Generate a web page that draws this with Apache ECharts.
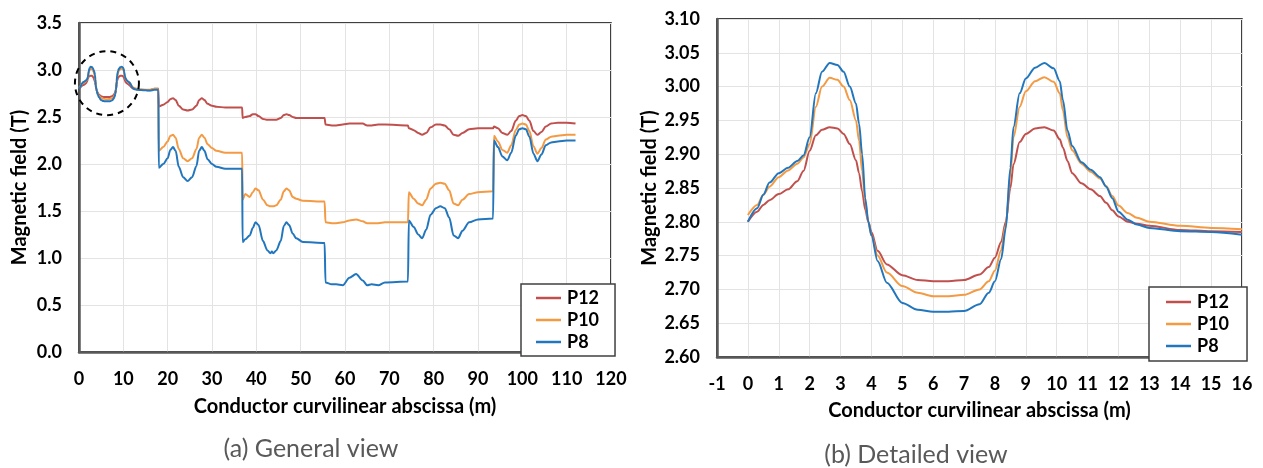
<!DOCTYPE html>
<html><head><meta charset="utf-8">
<script src="https://cdn.jsdelivr.net/npm/echarts@6/dist/echarts.min.js"></script>
<style>html,body{margin:0;padding:0;background:#fff}#c{width:1263px;height:468px}</style>
</head><body><div id="c"></div>
<script>
const seriesNames = ['P12', 'P10', 'P8'];
const seriesColors = ['#c0504d', '#f39a43', '#2176bd'];

// Detailed view (0-16 m), also the start of the general view
const detailX = [0, 0.3, 0.5, 0.7, 1.0, 1.3, 1.6, 1.8, 2.0, 2.2, 2.4, 2.65, 2.9, 3.1, 3.3, 3.5, 3.6, 3.7, 3.8, 3.9,
  4.0, 4.2, 4.5, 5.0, 5.5, 6.0, 6.5, 7.0, 7.5, 7.8, 8.0, 8.2, 8.35, 8.5, 8.6, 8.8, 9.0, 9.3, 9.6, 9.9,
  10.1, 10.2, 10.35, 10.5, 10.8, 11.1, 11.4, 11.6, 11.8, 12.0, 12.3, 12.6, 13.0, 14.0, 15.0, 16.0];
const detailP12 = [2.80, 2.815, 2.825, 2.832, 2.841, 2.848, 2.86, 2.875, 2.905, 2.928, 2.936, 2.94, 2.938, 2.93, 2.915, 2.891, 2.872, 2.845, 2.818, 2.80,
  2.785, 2.757, 2.737, 2.721, 2.714, 2.712, 2.712, 2.714, 2.722, 2.733, 2.747, 2.77, 2.80, 2.85, 2.885, 2.918, 2.93, 2.938, 2.94, 2.935,
  2.922, 2.91, 2.89, 2.872, 2.857, 2.848, 2.838, 2.828, 2.817, 2.808, 2.80, 2.797, 2.794, 2.788, 2.786, 2.785];
const detailP10 = [2.81, 2.825, 2.84, 2.852, 2.866, 2.876, 2.886, 2.895, 2.915, 2.97, 3.0, 3.013, 3.01, 3.0, 2.98, 2.95, 2.92, 2.875, 2.83, 2.80,
  2.78, 2.75, 2.725, 2.705, 2.695, 2.69, 2.69, 2.692, 2.70, 2.712, 2.728, 2.758, 2.795, 2.87, 2.925, 2.97, 2.993, 3.008, 3.014, 3.007,
  2.99, 2.965, 2.925, 2.906, 2.886, 2.874, 2.864, 2.853, 2.838, 2.824, 2.813, 2.806, 2.800, 2.794, 2.791, 2.789];
const detailP8 = [2.80, 2.82, 2.84, 2.858, 2.872, 2.880, 2.890, 2.898, 2.925, 2.99, 3.022, 3.035, 3.032, 3.022, 3.0, 2.975, 2.945, 2.90, 2.835, 2.80,
  2.78, 2.742, 2.71, 2.68, 2.67, 2.667, 2.667, 2.668, 2.678, 2.695, 2.712, 2.745, 2.79, 2.88, 2.94, 2.99, 3.012, 3.028, 3.035, 3.027,
  3.008, 2.98, 2.935, 2.912, 2.888, 2.877, 2.866, 2.852, 2.835, 2.815, 2.803, 2.796, 2.791, 2.786, 2.785, 2.781];

// General view beyond 16 m
const generalX = [17.0, 17.9,
  18.0, 19.0, 20.0, 20.6, 21.2, 21.8, 22.5, 23.5, 24.5, 25.5, 26.5, 27.1, 27.7, 28.3, 29.0, 30.0, 31.0, 33.0, 36.8,
  36.9, 37.5, 38.5, 39.2, 39.8, 40.5, 41.5, 42.5, 43.2, 43.5, 43.8, 44.5, 45.5, 46.2, 46.8, 47.4, 48.2, 49.0, 50.5, 55.4,
  55.6, 57.0, 58.0, 59.5, 61.0, 62.5, 64.0, 65.0, 66.0, 67.5, 69.0, 74.2,
  74.4, 75.5, 76.5, 77.4, 78.3, 79.3, 80.5, 81.5, 82.5, 83.5, 84.5, 85.5, 86.5, 88.0, 90.0, 93.4,
  93.6, 94.5, 95.5, 96.6, 97.5, 98.5, 99.3, 100.0, 100.8, 101.6, 102.5, 103.4, 104.3, 105.3, 106.5, 108.0, 110.0, 112.0];
const generalP12 = [2.80, 2.80,
  2.61, 2.63, 2.66, 2.69, 2.70, 2.68, 2.62, 2.58, 2.57, 2.58, 2.62, 2.68, 2.70, 2.68, 2.64, 2.62, 2.61, 2.60, 2.60,
  2.49, 2.50, 2.51, 2.53, 2.53, 2.51, 2.48, 2.47, 2.47, 2.47, 2.47, 2.47, 2.49, 2.52, 2.53, 2.52, 2.50, 2.49, 2.49, 2.49,
  2.42, 2.41, 2.41, 2.42, 2.43, 2.43, 2.43, 2.41, 2.41, 2.42, 2.42, 2.41,
  2.38, 2.36, 2.33, 2.31, 2.33, 2.39, 2.42, 2.42, 2.41, 2.37, 2.31, 2.30, 2.33, 2.37, 2.38, 2.38,
  2.40, 2.38, 2.33, 2.31, 2.35, 2.46, 2.51, 2.52, 2.51, 2.46, 2.35, 2.31, 2.34, 2.40, 2.43, 2.44, 2.44, 2.43];
const generalP10 = [2.80, 2.80,
  2.14, 2.18, 2.24, 2.30, 2.31, 2.28, 2.16, 2.06, 2.03, 2.06, 2.16, 2.28, 2.31, 2.28, 2.21, 2.17, 2.14, 2.12, 2.12,
  1.62, 1.68, 1.65, 1.70, 1.74, 1.72, 1.62, 1.56, 1.55, 1.55, 1.55, 1.56, 1.62, 1.71, 1.74, 1.72, 1.65, 1.63, 1.61, 1.60,
  1.38, 1.37, 1.37, 1.38, 1.40, 1.41, 1.39, 1.37, 1.37, 1.37, 1.38, 1.38,
  1.70, 1.63, 1.58, 1.56, 1.62, 1.74, 1.79, 1.80, 1.79, 1.72, 1.58, 1.56, 1.62, 1.68, 1.70, 1.71,
  2.30, 2.24, 2.15, 2.12, 2.20, 2.36, 2.42, 2.43, 2.42, 2.35, 2.19, 2.11, 2.17, 2.26, 2.29, 2.30, 2.31, 2.31];
const generalP8 = [2.79, 2.79,
  1.96, 2.00, 2.06, 2.15, 2.18, 2.14, 1.97, 1.86, 1.82, 1.86, 1.98, 2.14, 2.18, 2.14, 2.05, 2.00, 1.97, 1.95, 1.95,
  1.17, 1.20, 1.24, 1.32, 1.38, 1.35, 1.18, 1.08, 1.05, 1.07, 1.05, 1.08, 1.18, 1.34, 1.38, 1.35, 1.26, 1.21, 1.17, 1.16,
  0.74, 0.72, 0.72, 0.71, 0.79, 0.83, 0.76, 0.71, 0.72, 0.71, 0.74, 0.75,
  1.40, 1.33, 1.25, 1.21, 1.30, 1.46, 1.53, 1.55, 1.53, 1.43, 1.24, 1.21, 1.29, 1.38, 1.41, 1.42,
  2.25, 2.18, 2.08, 2.04, 2.12, 2.30, 2.37, 2.38, 2.37, 2.29, 2.11, 2.03, 2.10, 2.20, 2.23, 2.24, 2.25, 2.25];

const xTitle = 'Conductor curvilinear abscissa (m)';
const yTitle = 'Magnetic field (T)';
const captionA = '(a) General view';
const captionB = '(b) Detailed view';

const pairs = (xs, ys) => xs.map((x, i) => [x, ys[i]]);
const detailSets = [detailP12, detailP10, detailP8];
const generalSets = [generalP12, generalP10, generalP8];

const FONT = 'Lato';
const tickLabel = { color: '#000', fontFamily: FONT, fontWeight: 'bold', fontSize: 18 };
const nameStyle = { color: '#000', fontFamily: FONT, fontWeight: 'bold', fontSize: 20 };
const axisLine = { show: true, onZero: false, lineStyle: { color: '#595959', width: 2.5 } };
const splitLine = { show: true, lineStyle: { color: '#e3e3e3', width: 1 } };

const series = [];
seriesNames.forEach((name, i) => {
  series.push({
    name, type: 'line', xAxisIndex: 0, yAxisIndex: 0, symbol: 'none', smooth: 0.3, smoothMonotone: 'x',
    lineStyle: { width: 2, color: seriesColors[i] }, itemStyle: { color: seriesColors[i] },
    data: pairs(detailX, detailSets[i]).concat(pairs(generalX, generalSets[i])), z: 3
  });
});
seriesNames.forEach((name, i) => {
  series.push({
    name, type: 'line', xAxisIndex: 1, yAxisIndex: 1, symbol: 'none', smooth: 0.3, smoothMonotone: 'x',
    lineStyle: { width: 2, color: seriesColors[i] }, itemStyle: { color: seriesColors[i] },
    data: pairs(detailX, detailSets[i]), z: 3
  });
});

const legendBase = {
  orient: 'vertical', data: seriesNames, icon: 'rect', itemWidth: 25, itemHeight: 2.5, itemGap: 4,
  borderColor: '#404040', borderWidth: 1.5, backgroundColor: '#fff', borderRadius: 0,
  textStyle: { color: '#000', fontFamily: FONT, fontWeight: 'bold', fontSize: 18, padding: [0, 0, 0, 1] },
  selectedMode: false, z: 10
};

const chart = echarts.init(document.getElementById('c'), null, { renderer: 'canvas' });
chart.setOption({
  animation: false,
  backgroundColor: '#fff',
  grid: [
    { left: 79, top: 23, width: 532, height: 329, show: true, borderColor: '#000', borderWidth: 1.5, outerBoundsMode: 'none' },
    { left: 717, top: 19, width: 525, height: 338, show: true, borderColor: '#000', borderWidth: 1.5, outerBoundsMode: 'none' }
  ],
  xAxis: [
    { type: 'value', gridIndex: 0, min: 0, max: 120, interval: 10, axisLine, axisTick: { show: false }, splitLine,
      axisLabel: Object.assign({ margin: 18 }, tickLabel),
      name: xTitle, nameLocation: 'middle', nameGap: 45, nameTextStyle: nameStyle },
    { type: 'value', gridIndex: 1, min: -1, max: 16, interval: 1, axisLine, axisTick: { show: false }, splitLine,
      axisLabel: Object.assign({ margin: 18 }, tickLabel),
      name: xTitle, nameLocation: 'middle', nameGap: 44, nameTextStyle: nameStyle }
  ],
  yAxis: [
    { type: 'value', gridIndex: 0, min: 0, max: 3.5, interval: 0.5, axisLine, axisTick: { show: false }, splitLine,
      axisLabel: Object.assign({ margin: 17, formatter: v => v.toFixed(1) }, tickLabel),
      name: yTitle, nameLocation: 'middle', nameGap: 49, nameTextStyle: nameStyle },
    { type: 'value', gridIndex: 1, min: 2.6, max: 3.1, interval: 0.05, axisLine, axisTick: { show: false }, splitLine,
      axisLabel: Object.assign({ margin: 17, formatter: v => v.toFixed(2) }, tickLabel),
      name: yTitle, nameLocation: 'middle', nameGap: 57, nameTextStyle: nameStyle }
  ],
  legend: [
    Object.assign({ left: 521, top: 284, padding: [5, 16, 5, 15] }, legendBase),
    Object.assign({ left: 1149, top: 287, padding: [6, 18, 6, 17] }, legendBase)
  ],
  series
});

const ctr = chart.convertToPixel({ gridIndex: 0 }, [6.3, 2.86]);
chart.setOption({
  graphic: [
    { type: 'circle', shape: { cx: ctr[0], cy: ctr[1], r: 32 }, z: 50,
      style: { fill: 'none', stroke: '#000', lineWidth: 2, lineDash: [6, 5] } },
    { type: 'text', x: 311, y: 449, z: 50,
      style: { text: captionA, align: 'center', verticalAlign: 'middle', fill: '#595959', font: '25px Lato' } },
    { type: 'text', x: 916, y: 455, z: 50,
      style: { text: captionB, align: 'center', verticalAlign: 'middle', fill: '#595959', font: '25px Lato' } }
  ]
});
</script></body></html>
